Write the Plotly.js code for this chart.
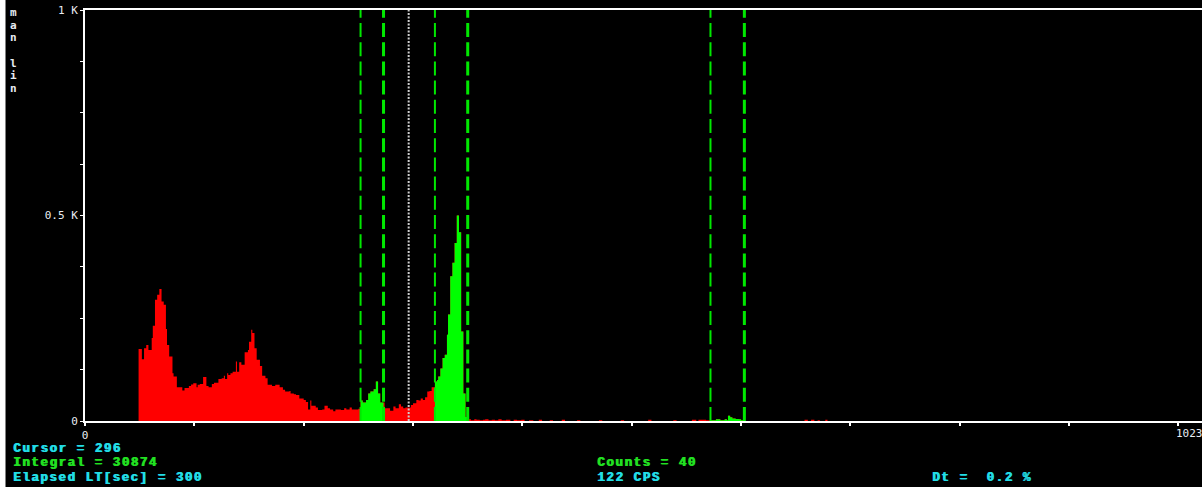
<!DOCTYPE html>
<html>
<head>
<meta charset="utf-8">
<script src="https://cdn.plot.ly/plotly-3.0.1.min.js"></script>
<style>
  html, body { margin: 0; padding: 0; background: #000; }
  #chart { width: 1202px; height: 487px; }
</style>
</head>
<body>
<div id="chart"></div>
<script>
// ---- data ----
// step start channel and counts of the spectrum
const specCh = [49, 52, 54, 56, 58, 61, 62, 64, 66, 68, 70, 72, 74, 75, 77, 80, 81, 84, 89, 91,
  95, 97, 99, 102, 103, 105, 108, 111, 113, 116, 118, 122, 125, 127, 128, 130, 131, 133, 135, 138,
  139, 141, 143, 146, 149, 150, 152, 153, 155, 157, 160, 162, 165, 167, 171, 174, 178, 181, 183, 187,
  188, 191, 193, 196, 200, 202, 204, 206, 207, 211, 213, 217, 219, 222, 224, 227, 229, 234, 237, 239,
  242, 244, 246, 250, 252, 254, 257, 259, 261, 264, 266, 268, 270, 274, 279, 282, 284, 287, 289, 291,
  293, 298, 300, 303, 305, 307, 309, 311, 313, 315, 317, 320, 322, 323, 325, 327, 329, 331, 332, 334,
  336, 338, 340, 342, 344, 346, 348, 350, 353, 356, 358, 361, 364, 366, 369, 372, 375, 378, 381, 385,
  389, 392, 395, 399, 402, 406, 410, 415, 418, 425, 428, 436, 439, 450, 453, 470, 473, 490, 493, 515,
  518, 538, 541, 555, 559, 561, 568, 572, 577, 581, 585, 587, 588, 590, 592, 595, 598, 600, 602, 658,
  661, 664, 667, 670, 672, 677, 679, 700];
const specCounts = [175, 150, 177, 185, 173, 202, 232, 295, 307, 321, 291, 283, 224, 185, 157, 116, 108, 82, 74, 80,
  85, 89, 92, 82, 88, 90, 107, 85, 82, 90, 93, 102, 104, 110, 102, 116, 112, 116, 120, 145,
  120, 143, 137, 167, 173, 193, 222, 214, 177, 149, 134, 110, 104, 88, 85, 88, 82, 76, 72, 73,
  67, 65, 63, 55, 51, 46, 28, 50, 37, 33, 27, 28, 37, 31, 28, 24, 28, 27, 31, 28,
  33, 28, 28, 30, 50, 45, 51, 67, 72, 77, 96, 67, 45, 31, 25, 35, 31, 41, 35, 31,
  33, 39, 43, 51, 50, 55, 51, 58, 72, 73, 82, 96, 100, 108, 128, 153, 161, 210, 259, 352,
  385, 433, 500, 459, 218, 67, 10, 4, 2, 4, 3, 2, 3, 4, 2, 3, 2, 4, 2, 3,
  0, 3, 2, 3, 0, 2, 0, 3, 0, 2, 0, 3, 0, 2, 0, 2, 0, 2, 0, 3,
  0, 2, 0, 3, 0, 3, 2, 2, 4, 2, 4, 2, 13, 9, 6, 5, 4, 2, 0, 3,
  0, 3, 0, 2, 0, 3, 0, 0];

const roiLo = [252, 320, 572];
const roiHi = [273, 350, 603];
const cursorCh = 296;

const yTickVals = [0, 125, 250, 375, 500, 625, 750, 875, 1000];
const yTickText = ['0', '', '', '', '0.5 K', '', '', '', '1 K'];
const xTickVals = [0, 100, 200, 300, 400, 500, 600, 700, 800, 900, 1000];
const xTickText = ['0', '', '', '', '', '', '', '', '', '', ''];
const xEndLabel = '1023';

const infoLeft = ['Cursor = 296', 'Integral = 30874', 'Elapsed LT[sec] = 300'];
const infoMid = ['Counts = 40', '122 CPS'];
const infoRight = 'Dt =\u00a0\u00a00.2 %';
const scaleLetters = 'man lin';

// ---- layout geometry ----
const W = 1202, H = 487;
const mL = 85, mR = 0, mT = 10, mB = 66;
const pw = W - mL - mR, ph = H - mT - mB;
const px = x => (x - mL) / pw;
const py = y => (H - mB - y) / ph;

const RED = '#ff0000', GREEN = '#00ff00', LINEGREEN = '#00e800';
const CYAN = '#22dde6', TXTGREEN = '#22e022', LABEL = '#e8ecf2';
const CHAR_ADV = 9; // advance of the wide bitmap-like info font

// ---- traces ----
const traces = [];
traces.push({
  type: 'scatter', mode: 'lines', x: specCh, y: specCounts,
  line: { shape: 'hv', width: 0, color: RED },
  fill: 'tozeroy', fillcolor: RED, hoverinfo: 'skip', showlegend: false
});

for (let r = 0; r < roiLo.length; r++) {
  const a = roiLo[r], b = roiHi[r];
  let i0 = 0;
  for (let i = 0; i < specCh.length; i++) if (specCh[i] <= a) i0 = i;
  const xs = [a], ys = [specCounts[i0]];
  for (let i = 0; i < specCh.length; i++) {
    if (specCh[i] > a && specCh[i] < b) { xs.push(specCh[i]); ys.push(specCounts[i]); }
  }
  xs.push(b); ys.push(0);
  traces.push({
    type: 'scatter', mode: 'lines', x: xs, y: ys,
    line: { shape: 'hv', width: 0, color: GREEN },
    fill: 'tozeroy', fillcolor: GREEN, hoverinfo: 'skip', showlegend: false
  });
}

// ---- shapes ----
const shapes = [];
for (let r = 0; r < roiLo.length; r++) {
  shapes.push({ type: 'line', xref: 'x', yref: 'paper', x0: roiLo[r], x1: roiLo[r], y0: 0, y1: 1,
    line: { color: LINEGREEN, width: 2, dash: '14px,5.2px' } });
  shapes.push({ type: 'line', xref: 'x', yref: 'paper', x0: roiHi[r], x1: roiHi[r], y0: 0, y1: 1,
    line: { color: LINEGREEN, width: 3, dash: '14px,5.2px' } });
}
shapes.push({ type: 'line', xref: 'x', yref: 'paper', x0: cursorCh, x1: cursorCh, y0: 0, y1: 1,
  line: { color: '#d0d0d0', width: 2, dash: '2px,1.5px' } });
// white strip at the left edge of the window
shapes.push({ type: 'rect', xref: 'paper', yref: 'paper', x0: px(0), x1: px(5.5), y0: py(H), y1: py(0),
  fillcolor: '#ffffff', line: { width: 0 }, layer: 'above' });

// ---- annotations ----
const ann = [];
const infoFont = (c) => ({ family: 'Liberation Mono, DejaVu Sans Mono, monospace', size: 12.5, color: c,
  weight: 700, shadow: '1px 0px 0px ' + c });
const leftColors = [CYAN, TXTGREEN, CYAN];
const rowY = [449, 463.5, 478];
const infoAnn = (t, x, y, c) => ({ xref: 'paper', yref: 'paper', x: px(x), y: py(y),
  xanchor: 'left', yanchor: 'middle', align: 'left', borderpad: 0,
  text: t, showarrow: false, font: infoFont(c) });
infoLeft.forEach((t, i) => ann.push(infoAnn(t, 12, rowY[i], leftColors[i])));
const midColors = [TXTGREEN, CYAN];
infoMid.forEach((t, i) => ann.push(infoAnn(t, 596, rowY[i + 1], midColors[i])));
ann.push(infoAnn(infoRight, 931, rowY[2], CYAN));

ann.push({ xref: 'paper', yref: 'paper', x: px(1189), y: py(433), xanchor: 'center', yanchor: 'middle',
  text: xEndLabel, showarrow: false, font: { family: 'DejaVu Sans Mono, monospace', size: 11, color: LABEL } });

for (let i = 0; i < scaleLetters.length; i++) {
  const ch = scaleLetters[i];
  if (ch !== ' ') {
    ann.push({ xref: 'paper', yref: 'paper', x: px(13), y: py(12.7 + i * 12.6), xanchor: 'center', yanchor: 'middle',
      text: ch, showarrow: false, borderpad: 0,
      font: { family: 'DejaVu Sans Mono, monospace', size: 11, color: LABEL, weight: 700 } });
  }
}

const layout = {
  width: W, height: H,
  margin: { l: mL, r: mR, t: mT, b: mB, pad: 0 },
  paper_bgcolor: '#000000', plot_bgcolor: '#000000',
  showlegend: false,
  xaxis: {
    range: [0, 1021.5], showgrid: false, zeroline: false,
    showline: true, linecolor: '#ffffff', linewidth: 2, mirror: true,
    ticks: 'outside', ticklen: 3, tickwidth: 2, tickcolor: '#ffffff',
    tickmode: 'array', tickvals: xTickVals, ticktext: xTickText,
    tickfont: { family: 'DejaVu Sans Mono, monospace', size: 11, color: LABEL },
    fixedrange: true
  },
  yaxis: {
    range: [0, 1000], showgrid: false, zeroline: false,
    showline: true, linecolor: '#ffffff', linewidth: 2, mirror: true,
    ticks: 'outside', ticklen: 3, tickwidth: 1, tickcolor: '#ffffff',
    tickmode: 'array', tickvals: yTickVals, ticktext: yTickText,
    tickfont: { family: 'DejaVu Sans Mono, monospace', size: 11, color: LABEL },
    fixedrange: true
  },
  shapes: shapes,
  annotations: ann
};

const infoTexts = infoLeft.concat(infoMid, [infoRight]);
Plotly.newPlot('chart', traces, layout, { staticPlot: true, displayModeBar: false }).then(() => {
  // widen the info lines to the wide bitmap-font advance of the reference
  document.querySelectorAll('#chart text.annotation-text').forEach(el => {
    const t = el.textContent;
    if (infoTexts.indexOf(t) >= 0) {
      el.setAttribute('textLength', String(t.length * CHAR_ADV - 1));
      el.setAttribute('lengthAdjust', 'spacing');
    }
  });
});
</script>
</body>
</html>
